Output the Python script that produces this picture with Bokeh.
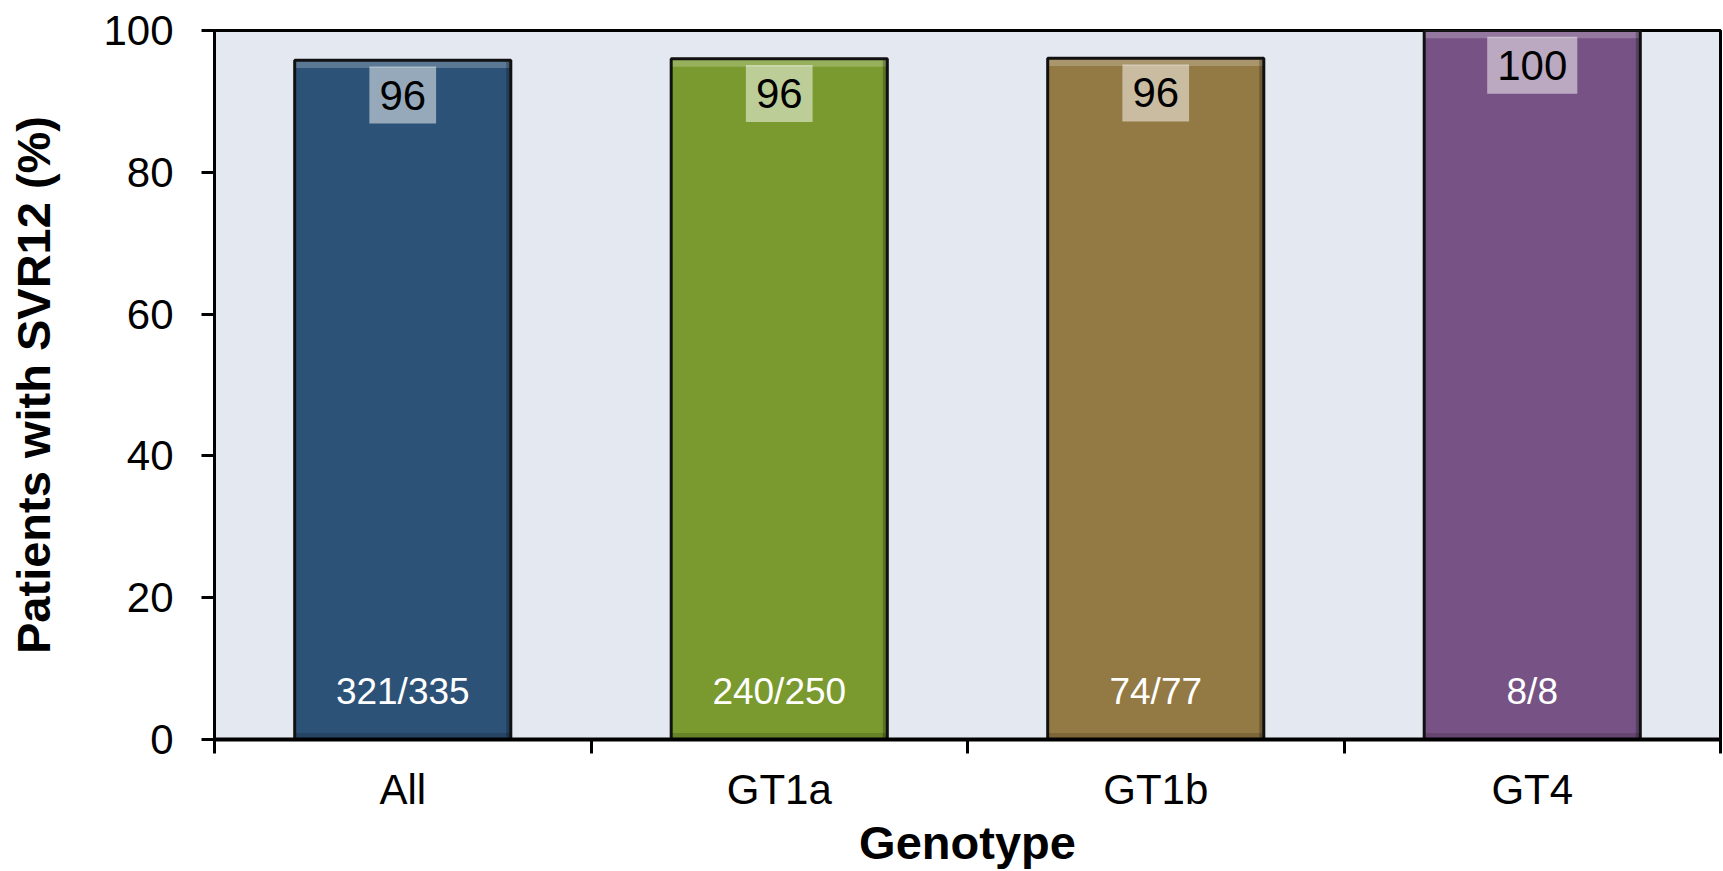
import numpy as np
from bokeh.plotting import figure
from bokeh.models import Range1d, FixedTicker, ColumnDataSource
from bokeh.embed import file_html
from bokeh.resources import INLINE
from bokeh.core.properties import value

# ---- data ----
categories = ["All", "GT1a", "GT1b", "GT4"]
svr_pct = [95.8, 96.0, 96.1, 100.0]
value_labels = ["96", "96", "96", "100"]
count_labels = ["321/335", "240/250", "74/77", "8/8"]
bar_colors = ["#2D5277", "#7A9A2F", "#937943", "#775385"]
y_ticks = [0, 20, 40, 60, 80, 100]

FONT = "Liberation Sans"
n = len(categories)
centers = np.arange(n) + 0.5
bounds = list(np.arange(n + 1).astype(float))
tops = np.array(svr_pct)
BAR_W = 0.574
EDGE_W = 0.012

src = ColumnDataSource(dict(
    x=list(centers), top=tops, color=bar_colors, vlab=value_labels, clab=count_labels,
    vy=tops - 4.9, cy=[6.7] * n,
    hl_top=tops, hl_bot=tops - 1.1,
    rx=list(centers + BAR_W / 2 - EDGE_W / 2),
))

p = figure(width=1723, height=871, x_range=Range1d(0, n), y_range=Range1d(0, 100),
           output_backend="svg", toolbar_location=None,
           min_border_left=214, min_border_right=3, min_border_top=30, min_border_bottom=131)

p.background_fill_color = "#E4E9F1"
p.border_fill_color = "white"
p.outline_line_color = "black"
p.outline_line_width = 3
p.xgrid.visible = False
p.ygrid.visible = False

# bars
p.vbar(x="x", top="top", bottom=0, width=BAR_W, fill_color="color",
       line_color=None, source=src)
# bevel: light top band, dark right edge, dark bottom band
p.vbar(x="x", top="hl_top", bottom="hl_bot", width=BAR_W, fill_color="white",
       fill_alpha=0.22, line_color=None, source=src)
p.vbar(x="rx", top="top", bottom=0, width=EDGE_W, fill_color="black",
       fill_alpha=0.25, line_color=None, source=src)
p.vbar(x="x", top=0.9, bottom=0, width=BAR_W, fill_color="black",
       fill_alpha=0.15, line_color=None, source=src)
# outline
p.vbar(x="x", top="top", bottom=0, width=BAR_W, fill_color=None,
       line_color="#111111", line_width=3, source=src)

# value labels with translucent box
p.text(x="x", y="vy", text="vlab", source=src, text_align="center",
       text_baseline="middle", text_font=value(FONT), text_font_size="42px",
       text_color="black", background_fill_color="white",
       background_fill_alpha=0.5, padding=(10, 14))

# count labels
p.text(x="x", y="cy", text="clab", source=src, text_align="center",
       text_baseline="middle", text_font=value(FONT), text_font_size="37px",
       text_color="white")

# y axis
ya = p.yaxis[0]
ya.ticker = FixedTicker(ticks=y_ticks)
ya.axis_label = "Patients with SVR12 (%)"
ya.axis_label_text_font = FONT
ya.axis_label_text_font_style = "bold"
ya.axis_label_text_font_size = "47px"
ya.axis_label_text_color = "black"
ya.axis_label_standoff = 40
ya.major_label_text_font = FONT
ya.major_label_text_font_size = "42px"
ya.major_label_text_color = "black"
ya.major_label_standoff = 28
ya.major_tick_out = 13
ya.major_tick_in = 0
ya.major_tick_line_width = 3
ya.minor_tick_line_color = None
ya.axis_line_width = 3

# x axis
xa = p.xaxis[0]
xa.ticker = FixedTicker(ticks=list(centers), minor_ticks=bounds)
xa.major_label_overrides = {float(c): cat for c, cat in zip(centers, categories)}
xa.axis_label = "Genotype"
xa.axis_label_text_font = FONT
xa.axis_label_text_font_style = "bold"
xa.axis_label_text_font_size = "47px"
xa.axis_label_text_color = "black"
xa.axis_label_standoff = 0
xa.major_label_text_font = FONT
xa.major_label_text_font_size = "42px"
xa.major_label_text_color = "black"
xa.major_label_standoff = 12
xa.major_tick_out = 13
xa.major_tick_in = 0
xa.major_tick_line_color = None
xa.minor_tick_out = 14
xa.minor_tick_in = 0
xa.minor_tick_line_width = 3
xa.minor_tick_line_color = "black"
xa.axis_line_width = 4

open("out.html", "w").write(file_html(p, INLINE))
